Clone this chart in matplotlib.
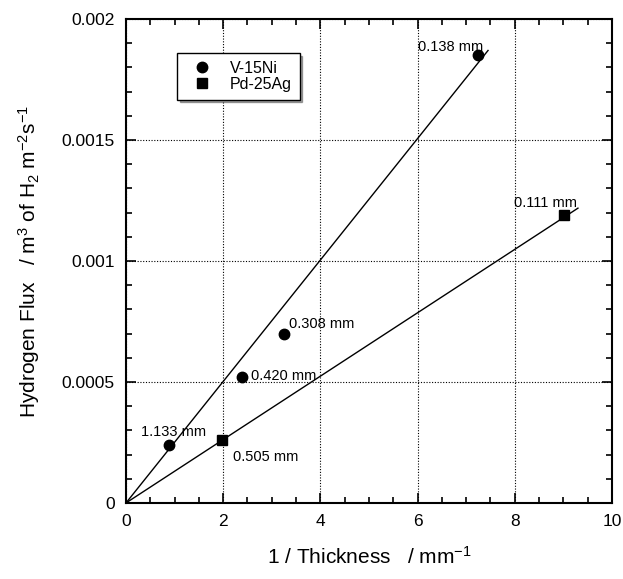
import matplotlib
matplotlib.use("Agg")
import matplotlib.pyplot as plt
import numpy as np

plt.rcParams['font.family'] = ['Liberation Sans', 'DejaVu Sans']
plt.rcParams['mathtext.fontset'] = 'custom'
plt.rcParams['mathtext.rm'] = 'Liberation Sans'
plt.rcParams['mathtext.it'] = 'Liberation Sans'
plt.rcParams['mathtext.bf'] = 'Liberation Sans:bold'

# Data
vni_thickness = [1.133, 0.420, 0.308, 0.138]
vni_flux = [0.00024, 0.00052, 0.00070, 0.00185]
pdag_thickness = [0.505, 0.111]
pdag_flux = [0.00026, 0.00119]
vni_slope = 0.000251
pdag_slope = 0.000131
vni_fit_xmax = 7.45
pdag_fit_xmax = 9.3
vni_labels = ["1.133 mm", "0.420 mm", "0.308 mm", "0.138 mm"]
pdag_labels = ["0.505 mm", "0.111 mm"]

vni_x = [1.0 / t for t in vni_thickness]
pdag_x = [1.0 / t for t in pdag_thickness]

fig = plt.figure(figsize=(6.23, 5.79), dpi=100)
ax = fig.add_axes([0.2022, 0.1313, 0.7801, 0.8359])

ax.set_xlim(0, 10)
ax.set_ylim(0, 0.002)

xs = np.array([0, vni_fit_xmax])
ax.plot(xs, vni_slope * xs, color='black', lw=1.0)
xs2 = np.array([0, pdag_fit_xmax])
ax.plot(xs2, pdag_slope * xs2, color='black', lw=1.0)

ax.plot(vni_x, vni_flux, 'o', color='black', ms=7.5, label='V-15Ni')
ax.plot(pdag_x, pdag_flux, 's', color='black', ms=7.5, label='Pd-25Ag')

# annotations (offsets in points)
vni_offsets = [(-20, 9), (7, 1), (4, 7), (-43, 6)]
pdag_offsets = [(8, -12), (-36, 9)]
for x, y, lab, off in zip(vni_x, vni_flux, vni_labels, vni_offsets):
    ax.annotate(lab, (x, y), xytext=off, textcoords='offset points',
                fontsize=10.5, va='center', ha='left')
for x, y, lab, off in zip(pdag_x, pdag_flux, pdag_labels, pdag_offsets):
    ax.annotate(lab, (x, y), xytext=off, textcoords='offset points',
                fontsize=10.5, va='center', ha='left')

ax.set_xticks([0, 2, 4, 6, 8, 10])
ax.set_xticklabels(['0', '2', '4', '6', '8', '10'])
ax.set_yticks([0, 0.0005, 0.001, 0.0015, 0.002])
ax.set_yticklabels(['0', '0.0005', '0.001', '0.0015', '0.002'])
ax.set_xticks(np.arange(0, 10.01, 0.5), minor=True)
ax.set_yticks(np.arange(0, 0.00201, 0.0001), minor=True)
ax.tick_params(which='both', direction='in', top=True, right=True, width=1.2)
ax.tick_params(which='major', length=7, labelsize=12.5, pad=8)
ax.tick_params(which='minor', length=4)
for s in ax.spines.values():
    s.set_linewidth(1.5)

ax.grid(which='major', linestyle=(0, (1, 1.5)), color='black', lw=0.8)

ax.set_xlabel('1 / Thickness   / mm$^{-1}$', fontsize=15, labelpad=12)
ax.set_ylabel('Hydrogen Flux   / m$^3$ of H$_2$ m$^{-2}$s$^{-1}$', fontsize=15, labelpad=14)

leg = ax.legend(loc='upper left', bbox_to_anchor=(0.095, 0.94), frameon=True,
                fancybox=False, shadow=True, edgecolor='black', fontsize=11.5,
                handletextpad=0.6, borderpad=0.5, labelspacing=0.05,
                handlelength=2.2, borderaxespad=0.3)
leg.get_frame().set_linewidth(1.0)

fig.savefig('out.png', dpi=100)
